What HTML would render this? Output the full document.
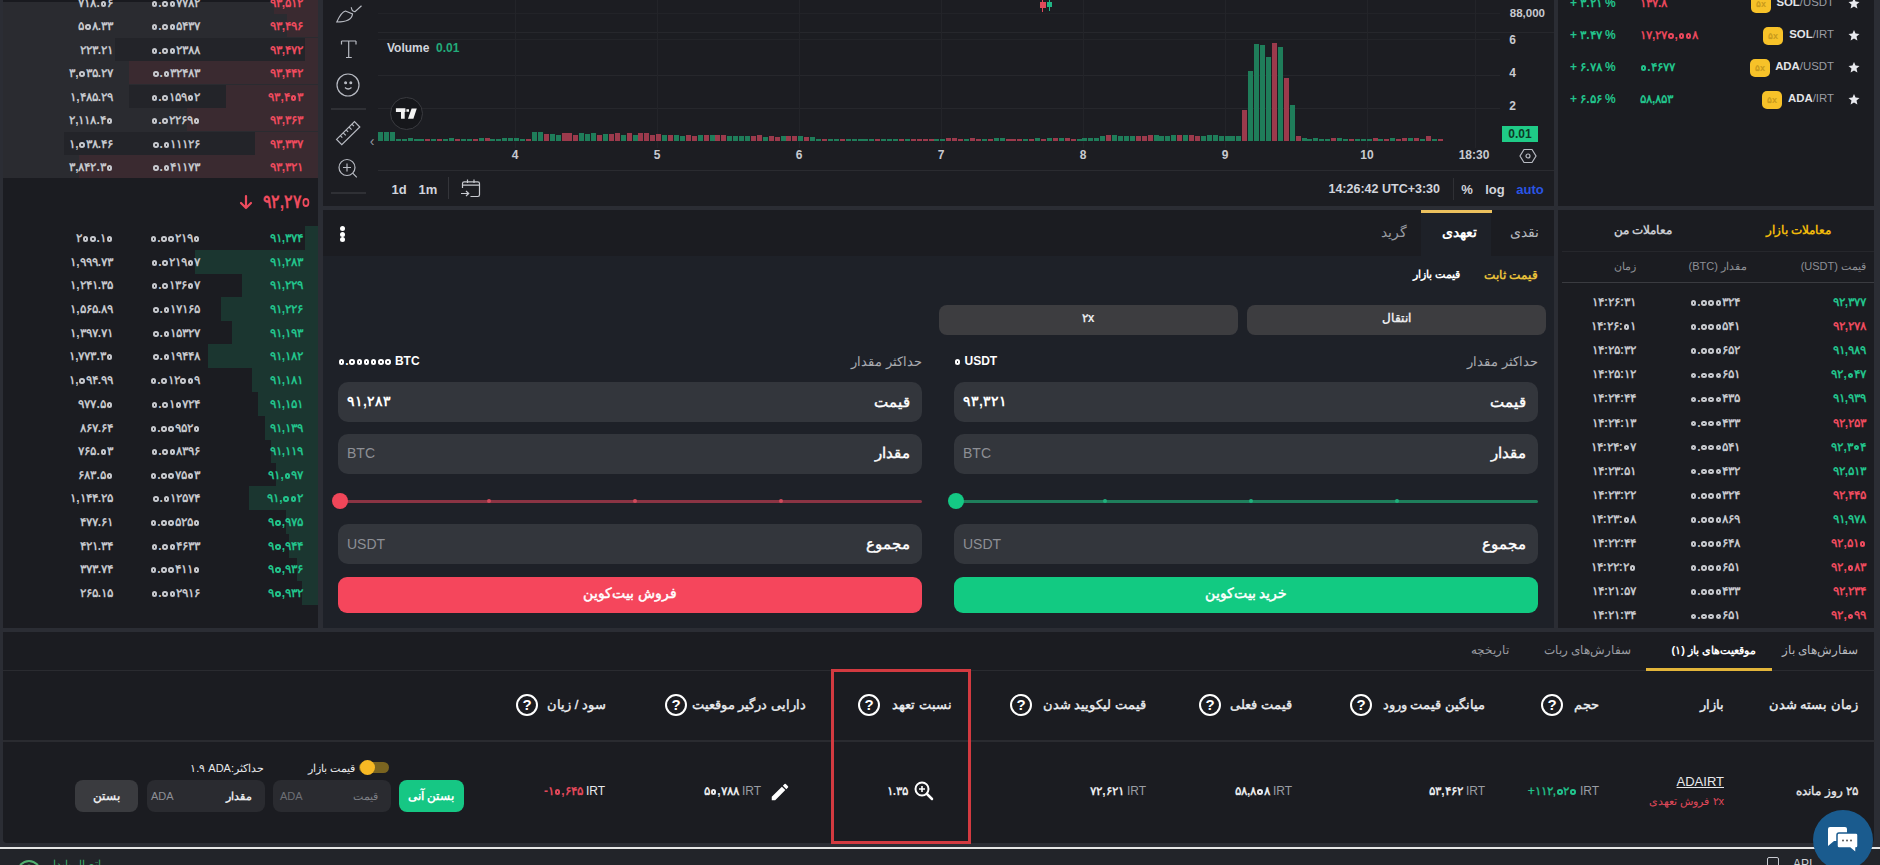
<!DOCTYPE html><html><head><meta charset="utf-8"><style>
html,body{margin:0;padding:0;width:1880px;height:865px;overflow:hidden;background:#2b2d34;font-family:"Liberation Sans",sans-serif}
body>div,body>svg{position:absolute}
.t{position:absolute;white-space:nowrap}
.z{display:inline-block;width:0.46em;height:0.46em;border:2px solid currentColor;border-radius:50%;box-sizing:border-box;vertical-align:0.02em;margin:0 0.07em}
</style></head><body>
<div style="left:3px;top:0px;width:315px;height:628px;background:#1b1c21;"></div>
<div style="left:3px;top:0px;width:315px;height:2px;background:#191a1f;"></div>
<div style="left:3px;top:2px;width:315px;height:176px;background:#2a2b30;"></div>
<div style="left:274px;top:-9px;width:44px;height:23px;background:#3a2a30;"></div>
<div style="left:287px;top:14px;width:31px;height:23px;background:#3a2a30;"></div>
<div style="left:115px;top:38px;width:190px;height:23px;background:#232429;"></div>
<div style="left:305px;top:38px;width:13px;height:23px;background:#3a2a30;"></div>
<div style="left:129px;top:61px;width:189px;height:23px;background:#3a2a30;"></div>
<div style="left:129px;top:85px;width:97px;height:23px;background:#232429;"></div>
<div style="left:226px;top:85px;width:92px;height:23px;background:#3a2a30;"></div>
<div style="left:187px;top:108px;width:131px;height:23px;background:#3a2a30;"></div>
<div style="left:64px;top:132px;width:191px;height:23px;background:#232429;"></div>
<div style="left:255px;top:132px;width:63px;height:23px;background:#3a2a30;"></div>
<div style="left:79px;top:155px;width:239px;height:23px;background:#3a2a30;"></div>
<div class="t" style="right:1767px;top:-6.0px;height:18px;line-height:18px;font-size:12px;color:#c5c7cc;font-weight:bold;">۷۱۸.<i class="z"></i>۶</div>
<div class="t" style="right:1680px;top:-6.0px;height:18px;line-height:18px;font-size:12px;color:#c5c7cc;font-weight:bold;"><i class="z"></i>.<i class="z"></i><i class="z"></i>۷۷۸۲</div>
<div class="t" style="right:1577px;top:-6.0px;height:18px;line-height:18px;font-size:12px;color:#ee4b5e;font-weight:bold;">۹۳,۵۱۲</div>
<div class="t" style="right:1767px;top:17.0px;height:18px;line-height:18px;font-size:12px;color:#c5c7cc;font-weight:bold;">۵<i class="z"></i>۸.۳۳</div>
<div class="t" style="right:1680px;top:17.0px;height:18px;line-height:18px;font-size:12px;color:#c5c7cc;font-weight:bold;"><i class="z"></i>.<i class="z"></i><i class="z"></i>۵۴۳۷</div>
<div class="t" style="right:1577px;top:17.0px;height:18px;line-height:18px;font-size:12px;color:#ee4b5e;font-weight:bold;">۹۳,۴۹۶</div>
<div class="t" style="right:1767px;top:41.0px;height:18px;line-height:18px;font-size:12px;color:#c5c7cc;font-weight:bold;">۲۲۳.۲۱</div>
<div class="t" style="right:1680px;top:41.0px;height:18px;line-height:18px;font-size:12px;color:#c5c7cc;font-weight:bold;"><i class="z"></i>.<i class="z"></i><i class="z"></i>۲۳۸۸</div>
<div class="t" style="right:1577px;top:41.0px;height:18px;line-height:18px;font-size:12px;color:#ee4b5e;font-weight:bold;">۹۳,۴۷۲</div>
<div class="t" style="right:1767px;top:64.0px;height:18px;line-height:18px;font-size:12px;color:#c5c7cc;font-weight:bold;">۳,<i class="z"></i>۳۵.۲۷</div>
<div class="t" style="right:1680px;top:64.0px;height:18px;line-height:18px;font-size:12px;color:#c5c7cc;font-weight:bold;"><i class="z"></i>.<i class="z"></i>۳۲۴۸۳</div>
<div class="t" style="right:1577px;top:64.0px;height:18px;line-height:18px;font-size:12px;color:#ee4b5e;font-weight:bold;">۹۳,۴۴۲</div>
<div class="t" style="right:1767px;top:88.0px;height:18px;line-height:18px;font-size:12px;color:#c5c7cc;font-weight:bold;">۱,۴۸۵.۲۹</div>
<div class="t" style="right:1680px;top:88.0px;height:18px;line-height:18px;font-size:12px;color:#c5c7cc;font-weight:bold;"><i class="z"></i>.<i class="z"></i>۱۵۹<i class="z"></i>۲</div>
<div class="t" style="right:1577px;top:88.0px;height:18px;line-height:18px;font-size:12px;color:#ee4b5e;font-weight:bold;">۹۳,۴<i class="z"></i>۳</div>
<div class="t" style="right:1767px;top:111.0px;height:18px;line-height:18px;font-size:12px;color:#c5c7cc;font-weight:bold;">۲,۱۱۸.۴<i class="z"></i></div>
<div class="t" style="right:1680px;top:111.0px;height:18px;line-height:18px;font-size:12px;color:#c5c7cc;font-weight:bold;"><i class="z"></i>.<i class="z"></i>۲۲۶۹<i class="z"></i></div>
<div class="t" style="right:1577px;top:111.0px;height:18px;line-height:18px;font-size:12px;color:#ee4b5e;font-weight:bold;">۹۳,۳۶۳</div>
<div class="t" style="right:1767px;top:135.0px;height:18px;line-height:18px;font-size:12px;color:#c5c7cc;font-weight:bold;">۱,<i class="z"></i>۳۸.۴۶</div>
<div class="t" style="right:1680px;top:135.0px;height:18px;line-height:18px;font-size:12px;color:#c5c7cc;font-weight:bold;"><i class="z"></i>.<i class="z"></i>۱۱۱۲۶</div>
<div class="t" style="right:1577px;top:135.0px;height:18px;line-height:18px;font-size:12px;color:#ee4b5e;font-weight:bold;">۹۳,۳۳۷</div>
<div class="t" style="right:1767px;top:158.0px;height:18px;line-height:18px;font-size:12px;color:#c5c7cc;font-weight:bold;">۳,۸۴۲.۳<i class="z"></i></div>
<div class="t" style="right:1680px;top:158.0px;height:18px;line-height:18px;font-size:12px;color:#c5c7cc;font-weight:bold;"><i class="z"></i>.<i class="z"></i>۴۱۱۷۳</div>
<div class="t" style="right:1577px;top:158.0px;height:18px;line-height:18px;font-size:12px;color:#ee4b5e;font-weight:bold;">۹۳,۳۲۱</div>
<div class="t" style="right:1569px;top:188.5px;height:25px;line-height:25px;font-size:19px;color:#ee4b5e;font-weight:bold;transform:scaleX(0.84);transform-origin:100% 50%">۹۲,۲۷<i class="z"></i></div>
<svg style="position:absolute;left:238px;top:194px" width="16" height="16" viewBox="0 0 16 16" fill="none" stroke="#ee4b5e" stroke-width="2.2" stroke-linecap="round" stroke-linejoin="round"><path d="M8 2v12M3 9l5 5 5-5"/></svg>
<div style="left:305px;top:226px;width:13px;height:24px;background:#1b3630;"></div>
<div style="left:195px;top:250px;width:123px;height:24px;background:#1b3630;"></div>
<div style="left:242px;top:273px;width:76px;height:24px;background:#1b3630;"></div>
<div style="left:221px;top:297px;width:97px;height:24px;background:#1b3630;"></div>
<div style="left:232px;top:321px;width:86px;height:24px;background:#1b3630;"></div>
<div style="left:208px;top:344px;width:110px;height:24px;background:#1b3630;"></div>
<div style="left:252px;top:368px;width:66px;height:24px;background:#1b3630;"></div>
<div style="left:258px;top:392px;width:60px;height:24px;background:#1b3630;"></div>
<div style="left:265px;top:416px;width:53px;height:24px;background:#1b3630;"></div>
<div style="left:271px;top:439px;width:47px;height:24px;background:#1b3630;"></div>
<div style="left:276px;top:463px;width:42px;height:24px;background:#1b3630;"></div>
<div style="left:249px;top:486px;width:69px;height:24px;background:#1b3630;"></div>
<div style="left:286px;top:510px;width:32px;height:24px;background:#1b3630;"></div>
<div style="left:289px;top:534px;width:29px;height:24px;background:#1b3630;"></div>
<div style="left:297px;top:557px;width:21px;height:24px;background:#1b3630;"></div>
<div style="left:302px;top:581px;width:16px;height:24px;background:#1b3630;"></div>
<div class="t" style="right:1767px;top:229.0px;height:18px;line-height:18px;font-size:12px;color:#c5c7cc;font-weight:bold;">۲<i class="z"></i><i class="z"></i>.۱<i class="z"></i></div>
<div class="t" style="right:1680px;top:229.0px;height:18px;line-height:18px;font-size:12px;color:#c5c7cc;font-weight:bold;"><i class="z"></i>.<i class="z"></i><i class="z"></i>۲۱۹<i class="z"></i></div>
<div class="t" style="right:1577px;top:229.0px;height:18px;line-height:18px;font-size:12px;color:#22c38b;font-weight:bold;">۹۱,۳۷۴</div>
<div class="t" style="right:1767px;top:253.0px;height:18px;line-height:18px;font-size:12px;color:#c5c7cc;font-weight:bold;">۱,۹۹۹.۷۳</div>
<div class="t" style="right:1680px;top:253.0px;height:18px;line-height:18px;font-size:12px;color:#c5c7cc;font-weight:bold;"><i class="z"></i>.<i class="z"></i>۲۱۹<i class="z"></i>۷</div>
<div class="t" style="right:1577px;top:253.0px;height:18px;line-height:18px;font-size:12px;color:#22c38b;font-weight:bold;">۹۱,۲۸۳</div>
<div class="t" style="right:1767px;top:276.0px;height:18px;line-height:18px;font-size:12px;color:#c5c7cc;font-weight:bold;">۱,۲۴۱.۳۵</div>
<div class="t" style="right:1680px;top:276.0px;height:18px;line-height:18px;font-size:12px;color:#c5c7cc;font-weight:bold;"><i class="z"></i>.<i class="z"></i>۱۳۶<i class="z"></i>۷</div>
<div class="t" style="right:1577px;top:276.0px;height:18px;line-height:18px;font-size:12px;color:#22c38b;font-weight:bold;">۹۱,۲۲۹</div>
<div class="t" style="right:1767px;top:300.0px;height:18px;line-height:18px;font-size:12px;color:#c5c7cc;font-weight:bold;">۱,۵۶۵.۸۹</div>
<div class="t" style="right:1680px;top:300.0px;height:18px;line-height:18px;font-size:12px;color:#c5c7cc;font-weight:bold;"><i class="z"></i>.<i class="z"></i>۱۷۱۶۵</div>
<div class="t" style="right:1577px;top:300.0px;height:18px;line-height:18px;font-size:12px;color:#22c38b;font-weight:bold;">۹۱,۲۲۶</div>
<div class="t" style="right:1767px;top:324.0px;height:18px;line-height:18px;font-size:12px;color:#c5c7cc;font-weight:bold;">۱,۳۹۷.۷۱</div>
<div class="t" style="right:1680px;top:324.0px;height:18px;line-height:18px;font-size:12px;color:#c5c7cc;font-weight:bold;"><i class="z"></i>.<i class="z"></i>۱۵۳۲۷</div>
<div class="t" style="right:1577px;top:324.0px;height:18px;line-height:18px;font-size:12px;color:#22c38b;font-weight:bold;">۹۱,۱۹۳</div>
<div class="t" style="right:1767px;top:347.0px;height:18px;line-height:18px;font-size:12px;color:#c5c7cc;font-weight:bold;">۱,۷۷۳.۳<i class="z"></i></div>
<div class="t" style="right:1680px;top:347.0px;height:18px;line-height:18px;font-size:12px;color:#c5c7cc;font-weight:bold;"><i class="z"></i>.<i class="z"></i>۱۹۴۴۸</div>
<div class="t" style="right:1577px;top:347.0px;height:18px;line-height:18px;font-size:12px;color:#22c38b;font-weight:bold;">۹۱,۱۸۲</div>
<div class="t" style="right:1767px;top:371.0px;height:18px;line-height:18px;font-size:12px;color:#c5c7cc;font-weight:bold;">۱,<i class="z"></i>۹۴.۹۹</div>
<div class="t" style="right:1680px;top:371.0px;height:18px;line-height:18px;font-size:12px;color:#c5c7cc;font-weight:bold;"><i class="z"></i>.<i class="z"></i>۱۲<i class="z"></i><i class="z"></i>۹</div>
<div class="t" style="right:1577px;top:371.0px;height:18px;line-height:18px;font-size:12px;color:#22c38b;font-weight:bold;">۹۱,۱۸۱</div>
<div class="t" style="right:1767px;top:395.0px;height:18px;line-height:18px;font-size:12px;color:#c5c7cc;font-weight:bold;">۹۷۷.۵<i class="z"></i></div>
<div class="t" style="right:1680px;top:395.0px;height:18px;line-height:18px;font-size:12px;color:#c5c7cc;font-weight:bold;"><i class="z"></i>.<i class="z"></i>۱<i class="z"></i>۷۲۴</div>
<div class="t" style="right:1577px;top:395.0px;height:18px;line-height:18px;font-size:12px;color:#22c38b;font-weight:bold;">۹۱,۱۵۱</div>
<div class="t" style="right:1767px;top:419.0px;height:18px;line-height:18px;font-size:12px;color:#c5c7cc;font-weight:bold;">۸۶۷.۶۴</div>
<div class="t" style="right:1680px;top:419.0px;height:18px;line-height:18px;font-size:12px;color:#c5c7cc;font-weight:bold;"><i class="z"></i>.<i class="z"></i><i class="z"></i>۹۵۲<i class="z"></i></div>
<div class="t" style="right:1577px;top:419.0px;height:18px;line-height:18px;font-size:12px;color:#22c38b;font-weight:bold;">۹۱,۱۳۹</div>
<div class="t" style="right:1767px;top:442.0px;height:18px;line-height:18px;font-size:12px;color:#c5c7cc;font-weight:bold;">۷۶۵.<i class="z"></i>۳</div>
<div class="t" style="right:1680px;top:442.0px;height:18px;line-height:18px;font-size:12px;color:#c5c7cc;font-weight:bold;"><i class="z"></i>.<i class="z"></i><i class="z"></i>۸۳۹۶</div>
<div class="t" style="right:1577px;top:442.0px;height:18px;line-height:18px;font-size:12px;color:#22c38b;font-weight:bold;">۹۱,۱۱۹</div>
<div class="t" style="right:1767px;top:466.0px;height:18px;line-height:18px;font-size:12px;color:#c5c7cc;font-weight:bold;">۶۸۳.۵<i class="z"></i></div>
<div class="t" style="right:1680px;top:466.0px;height:18px;line-height:18px;font-size:12px;color:#c5c7cc;font-weight:bold;"><i class="z"></i>.<i class="z"></i><i class="z"></i>۷۵<i class="z"></i>۳</div>
<div class="t" style="right:1577px;top:466.0px;height:18px;line-height:18px;font-size:12px;color:#22c38b;font-weight:bold;">۹۱,<i class="z"></i>۹۷</div>
<div class="t" style="right:1767px;top:489.0px;height:18px;line-height:18px;font-size:12px;color:#c5c7cc;font-weight:bold;">۱,۱۴۴.۲۵</div>
<div class="t" style="right:1680px;top:489.0px;height:18px;line-height:18px;font-size:12px;color:#c5c7cc;font-weight:bold;"><i class="z"></i>.<i class="z"></i>۱۲۵۷۴</div>
<div class="t" style="right:1577px;top:489.0px;height:18px;line-height:18px;font-size:12px;color:#22c38b;font-weight:bold;">۹۱,<i class="z"></i><i class="z"></i>۲</div>
<div class="t" style="right:1767px;top:513.0px;height:18px;line-height:18px;font-size:12px;color:#c5c7cc;font-weight:bold;">۴۷۷.۶۱</div>
<div class="t" style="right:1680px;top:513.0px;height:18px;line-height:18px;font-size:12px;color:#c5c7cc;font-weight:bold;"><i class="z"></i>.<i class="z"></i><i class="z"></i>۵۲۵<i class="z"></i></div>
<div class="t" style="right:1577px;top:513.0px;height:18px;line-height:18px;font-size:12px;color:#22c38b;font-weight:bold;">۹<i class="z"></i>,۹۷۵</div>
<div class="t" style="right:1767px;top:537.0px;height:18px;line-height:18px;font-size:12px;color:#c5c7cc;font-weight:bold;">۴۲۱.۳۴</div>
<div class="t" style="right:1680px;top:537.0px;height:18px;line-height:18px;font-size:12px;color:#c5c7cc;font-weight:bold;"><i class="z"></i>.<i class="z"></i><i class="z"></i>۴۶۳۳</div>
<div class="t" style="right:1577px;top:537.0px;height:18px;line-height:18px;font-size:12px;color:#22c38b;font-weight:bold;">۹<i class="z"></i>,۹۴۴</div>
<div class="t" style="right:1767px;top:560.0px;height:18px;line-height:18px;font-size:12px;color:#c5c7cc;font-weight:bold;">۳۷۳.۷۴</div>
<div class="t" style="right:1680px;top:560.0px;height:18px;line-height:18px;font-size:12px;color:#c5c7cc;font-weight:bold;"><i class="z"></i>.<i class="z"></i><i class="z"></i>۴۱۱<i class="z"></i></div>
<div class="t" style="right:1577px;top:560.0px;height:18px;line-height:18px;font-size:12px;color:#22c38b;font-weight:bold;">۹<i class="z"></i>,۹۳۶</div>
<div class="t" style="right:1767px;top:584.0px;height:18px;line-height:18px;font-size:12px;color:#c5c7cc;font-weight:bold;">۲۶۵.۱۵</div>
<div class="t" style="right:1680px;top:584.0px;height:18px;line-height:18px;font-size:12px;color:#c5c7cc;font-weight:bold;"><i class="z"></i>.<i class="z"></i><i class="z"></i>۲۹۱۶</div>
<div class="t" style="right:1577px;top:584.0px;height:18px;line-height:18px;font-size:12px;color:#22c38b;font-weight:bold;">۹<i class="z"></i>,۹۳۲</div>
<div style="left:323px;top:0px;width:1231px;height:206px;background:#1c1d22;"></div>
<div style="left:378px;top:32px;width:1122px;height:1px;background:#26272c;"></div>
<div style="left:378px;top:75px;width:1122px;height:1px;background:#26272c;"></div>
<div style="left:378px;top:108px;width:1122px;height:1px;background:#26272c;"></div>
<div style="left:378px;top:39px;width:1122px;height:1px;background:#232429;"></div>
<div style="left:378px;top:13px;width:1122px;height:1px;background:#222328;"></div>
<div style="left:378px;top:170px;width:1176px;height:1px;background:#2a2b30;"></div>
<div style="left:1500px;top:32px;width:54px;height:1px;background:#26272c;"></div>
<div style="left:515px;top:0px;width:1px;height:148px;background:#232429;"></div>
<div style="left:657px;top:0px;width:1px;height:148px;background:#232429;"></div>
<div style="left:799px;top:0px;width:1px;height:148px;background:#232429;"></div>
<div style="left:941px;top:0px;width:1px;height:148px;background:#232429;"></div>
<div style="left:1083px;top:0px;width:1px;height:148px;background:#232429;"></div>
<div style="left:1225px;top:0px;width:1px;height:148px;background:#232429;"></div>
<div style="left:1367px;top:0px;width:1px;height:148px;background:#232429;"></div>
<div style="left:1475px;top:0px;width:1px;height:148px;background:#232429;"></div>
<div style="left:331px;top:108px;width:35px;height:2px;background:#2f3035;"></div>
<div style="left:331px;top:192px;width:35px;height:2px;background:#2f3035;"></div>
<div style="left:378px;top:132px;width:4.6px;height:9px;background:#1f7d5a"></div><div style="left:384px;top:132px;width:4.6px;height:9px;background:#1f7d5a"></div><div style="left:390px;top:132px;width:4.6px;height:9px;background:#1f7d5a"></div><div style="left:396px;top:139px;width:4.6px;height:2px;background:#1f7d5a"></div><div style="left:402px;top:139px;width:4.6px;height:2px;background:#1f7d5a"></div><div style="left:408px;top:138px;width:4.6px;height:3px;background:#1f7d5a"></div><div style="left:414px;top:139px;width:4.6px;height:2px;background:#1f7d5a"></div><div style="left:419px;top:139px;width:4.6px;height:2px;background:#1f7d5a"></div><div style="left:425px;top:139px;width:4.6px;height:2px;background:#9b3a4c"></div><div style="left:431px;top:139px;width:4.6px;height:2px;background:#1f7d5a"></div><div style="left:437px;top:139px;width:4.6px;height:2px;background:#9b3a4c"></div><div style="left:443px;top:139px;width:4.6px;height:2px;background:#1f7d5a"></div><div style="left:449px;top:138px;width:4.6px;height:3px;background:#1f7d5a"></div><div style="left:455px;top:139px;width:4.6px;height:2px;background:#9b3a4c"></div><div style="left:461px;top:139px;width:4.6px;height:2px;background:#1f7d5a"></div><div style="left:467px;top:139px;width:4.6px;height:2px;background:#1f7d5a"></div><div style="left:473px;top:139px;width:4.6px;height:2px;background:#9b3a4c"></div><div style="left:479px;top:138px;width:4.6px;height:3px;background:#1f7d5a"></div><div style="left:485px;top:138px;width:4.6px;height:3px;background:#9b3a4c"></div><div style="left:490px;top:139px;width:4.6px;height:2px;background:#1f7d5a"></div><div style="left:496px;top:139px;width:4.6px;height:2px;background:#1f7d5a"></div><div style="left:502px;top:138px;width:4.6px;height:3px;background:#1f7d5a"></div><div style="left:508px;top:138px;width:4.6px;height:3px;background:#1f7d5a"></div><div style="left:514px;top:138px;width:4.6px;height:3px;background:#1f7d5a"></div><div style="left:520px;top:139px;width:4.6px;height:2px;background:#1f7d5a"></div><div style="left:526px;top:139px;width:4.6px;height:2px;background:#9b3a4c"></div><div style="left:532px;top:132px;width:4.6px;height:9px;background:#1f7d5a"></div><div style="left:538px;top:132px;width:4.6px;height:9px;background:#1f7d5a"></div><div style="left:544px;top:134px;width:4.6px;height:7px;background:#9b3a4c"></div><div style="left:550px;top:134px;width:4.6px;height:7px;background:#1f7d5a"></div><div style="left:556px;top:135px;width:4.6px;height:6px;background:#1f7d5a"></div><div style="left:562px;top:133px;width:4.6px;height:8px;background:#9b3a4c"></div><div style="left:567px;top:133px;width:4.6px;height:8px;background:#9b3a4c"></div><div style="left:573px;top:135px;width:4.6px;height:6px;background:#9b3a4c"></div><div style="left:579px;top:133px;width:4.6px;height:8px;background:#1f7d5a"></div><div style="left:585px;top:134px;width:4.6px;height:7px;background:#1f7d5a"></div><div style="left:591px;top:133px;width:4.6px;height:8px;background:#1f7d5a"></div><div style="left:597px;top:135px;width:4.6px;height:6px;background:#9b3a4c"></div><div style="left:603px;top:134px;width:4.6px;height:7px;background:#1f7d5a"></div><div style="left:609px;top:134px;width:4.6px;height:7px;background:#9b3a4c"></div><div style="left:615px;top:133px;width:4.6px;height:8px;background:#9b3a4c"></div><div style="left:621px;top:135px;width:4.6px;height:6px;background:#1f7d5a"></div><div style="left:627px;top:133px;width:4.6px;height:8px;background:#9b3a4c"></div><div style="left:633px;top:135px;width:4.6px;height:6px;background:#1f7d5a"></div><div style="left:638px;top:133px;width:4.6px;height:8px;background:#9b3a4c"></div><div style="left:644px;top:133px;width:4.6px;height:8px;background:#9b3a4c"></div><div style="left:650px;top:135px;width:4.6px;height:6px;background:#9b3a4c"></div><div style="left:656px;top:134px;width:4.6px;height:7px;background:#9b3a4c"></div><div style="left:662px;top:135px;width:4.6px;height:6px;background:#1f7d5a"></div><div style="left:668px;top:135px;width:4.6px;height:6px;background:#9b3a4c"></div><div style="left:674px;top:135px;width:4.6px;height:6px;background:#1f7d5a"></div><div style="left:680px;top:136px;width:4.6px;height:5px;background:#1f7d5a"></div><div style="left:686px;top:135px;width:4.6px;height:6px;background:#9b3a4c"></div><div style="left:692px;top:136px;width:4.6px;height:5px;background:#9b3a4c"></div><div style="left:698px;top:135px;width:4.6px;height:6px;background:#1f7d5a"></div><div style="left:704px;top:135px;width:4.6px;height:6px;background:#9b3a4c"></div><div style="left:710px;top:135px;width:4.6px;height:6px;background:#1f7d5a"></div><div style="left:715px;top:135px;width:4.6px;height:6px;background:#9b3a4c"></div><div style="left:721px;top:135px;width:4.6px;height:6px;background:#9b3a4c"></div><div style="left:727px;top:136px;width:4.6px;height:5px;background:#1f7d5a"></div><div style="left:733px;top:136px;width:4.6px;height:5px;background:#1f7d5a"></div><div style="left:739px;top:136px;width:4.6px;height:5px;background:#1f7d5a"></div><div style="left:745px;top:136px;width:4.6px;height:5px;background:#1f7d5a"></div><div style="left:751px;top:136px;width:4.6px;height:5px;background:#9b3a4c"></div><div style="left:757px;top:135px;width:4.6px;height:6px;background:#9b3a4c"></div><div style="left:763px;top:137px;width:4.6px;height:4px;background:#1f7d5a"></div><div style="left:769px;top:136px;width:4.6px;height:5px;background:#9b3a4c"></div><div style="left:775px;top:137px;width:4.6px;height:4px;background:#9b3a4c"></div><div style="left:781px;top:136px;width:4.6px;height:5px;background:#1f7d5a"></div><div style="left:786px;top:136px;width:4.6px;height:5px;background:#9b3a4c"></div><div style="left:792px;top:136px;width:4.6px;height:5px;background:#9b3a4c"></div><div style="left:798px;top:136px;width:4.6px;height:5px;background:#1f7d5a"></div><div style="left:804px;top:137px;width:4.6px;height:4px;background:#9b3a4c"></div><div style="left:810px;top:137px;width:4.6px;height:4px;background:#1f7d5a"></div><div style="left:816px;top:139px;width:4.6px;height:2px;background:#1f7d5a"></div><div style="left:822px;top:139px;width:4.6px;height:2px;background:#9b3a4c"></div><div style="left:828px;top:139px;width:4.6px;height:2px;background:#1f7d5a"></div><div style="left:834px;top:139px;width:4.6px;height:2px;background:#1f7d5a"></div><div style="left:840px;top:139px;width:4.6px;height:2px;background:#9b3a4c"></div><div style="left:846px;top:139px;width:4.6px;height:2px;background:#1f7d5a"></div><div style="left:852px;top:139px;width:4.6px;height:2px;background:#1f7d5a"></div><div style="left:858px;top:139px;width:4.6px;height:2px;background:#1f7d5a"></div><div style="left:863px;top:139px;width:4.6px;height:2px;background:#1f7d5a"></div><div style="left:869px;top:139px;width:4.6px;height:2px;background:#1f7d5a"></div><div style="left:875px;top:139px;width:4.6px;height:2px;background:#9b3a4c"></div><div style="left:881px;top:139px;width:4.6px;height:2px;background:#1f7d5a"></div><div style="left:887px;top:139px;width:4.6px;height:2px;background:#1f7d5a"></div><div style="left:893px;top:139px;width:4.6px;height:2px;background:#1f7d5a"></div><div style="left:899px;top:139px;width:4.6px;height:2px;background:#9b3a4c"></div><div style="left:905px;top:139px;width:4.6px;height:2px;background:#1f7d5a"></div><div style="left:911px;top:139px;width:4.6px;height:2px;background:#9b3a4c"></div><div style="left:917px;top:139px;width:4.6px;height:2px;background:#9b3a4c"></div><div style="left:923px;top:139px;width:4.6px;height:2px;background:#9b3a4c"></div><div style="left:929px;top:139px;width:4.6px;height:2px;background:#9b3a4c"></div><div style="left:934px;top:139px;width:4.6px;height:2px;background:#1f7d5a"></div><div style="left:940px;top:139px;width:4.6px;height:2px;background:#1f7d5a"></div><div style="left:946px;top:138px;width:4.6px;height:3px;background:#9b3a4c"></div><div style="left:952px;top:138px;width:4.6px;height:3px;background:#9b3a4c"></div><div style="left:958px;top:139px;width:4.6px;height:2px;background:#9b3a4c"></div><div style="left:964px;top:139px;width:4.6px;height:2px;background:#1f7d5a"></div><div style="left:970px;top:138px;width:4.6px;height:3px;background:#9b3a4c"></div><div style="left:976px;top:139px;width:4.6px;height:2px;background:#9b3a4c"></div><div style="left:982px;top:139px;width:4.6px;height:2px;background:#1f7d5a"></div><div style="left:988px;top:139px;width:4.6px;height:2px;background:#9b3a4c"></div><div style="left:994px;top:138px;width:4.6px;height:3px;background:#1f7d5a"></div><div style="left:1000px;top:138px;width:4.6px;height:3px;background:#1f7d5a"></div><div style="left:1006px;top:139px;width:4.6px;height:2px;background:#9b3a4c"></div><div style="left:1011px;top:139px;width:4.6px;height:2px;background:#9b3a4c"></div><div style="left:1017px;top:139px;width:4.6px;height:2px;background:#9b3a4c"></div><div style="left:1023px;top:139px;width:4.6px;height:2px;background:#1f7d5a"></div><div style="left:1029px;top:139px;width:4.6px;height:2px;background:#9b3a4c"></div><div style="left:1035px;top:138px;width:4.6px;height:3px;background:#1f7d5a"></div><div style="left:1041px;top:139px;width:4.6px;height:2px;background:#9b3a4c"></div><div style="left:1047px;top:138px;width:4.6px;height:3px;background:#1f7d5a"></div><div style="left:1053px;top:138px;width:4.6px;height:3px;background:#9b3a4c"></div><div style="left:1059px;top:138px;width:4.6px;height:3px;background:#1f7d5a"></div><div style="left:1065px;top:138px;width:4.6px;height:3px;background:#9b3a4c"></div><div style="left:1071px;top:139px;width:4.6px;height:2px;background:#9b3a4c"></div><div style="left:1077px;top:139px;width:4.6px;height:2px;background:#1f7d5a"></div><div style="left:1082px;top:138px;width:4.6px;height:3px;background:#1f7d5a"></div><div style="left:1088px;top:138px;width:4.6px;height:3px;background:#1f7d5a"></div><div style="left:1094px;top:138px;width:4.6px;height:3px;background:#1f7d5a"></div><div style="left:1100px;top:136px;width:4.6px;height:5px;background:#1f7d5a"></div><div style="left:1106px;top:135px;width:4.6px;height:6px;background:#9b3a4c"></div><div style="left:1112px;top:135px;width:4.6px;height:6px;background:#1f7d5a"></div><div style="left:1118px;top:136px;width:4.6px;height:5px;background:#1f7d5a"></div><div style="left:1124px;top:136px;width:4.6px;height:5px;background:#1f7d5a"></div><div style="left:1130px;top:136px;width:4.6px;height:5px;background:#1f7d5a"></div><div style="left:1136px;top:136px;width:4.6px;height:5px;background:#9b3a4c"></div><div style="left:1142px;top:136px;width:4.6px;height:5px;background:#9b3a4c"></div><div style="left:1148px;top:135px;width:4.6px;height:6px;background:#9b3a4c"></div><div style="left:1154px;top:135px;width:4.6px;height:6px;background:#1f7d5a"></div><div style="left:1159px;top:136px;width:4.6px;height:5px;background:#1f7d5a"></div><div style="left:1165px;top:136px;width:4.6px;height:5px;background:#1f7d5a"></div><div style="left:1171px;top:135px;width:4.6px;height:6px;background:#1f7d5a"></div><div style="left:1177px;top:135px;width:4.6px;height:6px;background:#9b3a4c"></div><div style="left:1183px;top:135px;width:4.6px;height:6px;background:#1f7d5a"></div><div style="left:1189px;top:135px;width:4.6px;height:6px;background:#9b3a4c"></div><div style="left:1195px;top:136px;width:4.6px;height:5px;background:#9b3a4c"></div><div style="left:1201px;top:136px;width:4.6px;height:5px;background:#1f7d5a"></div><div style="left:1207px;top:135px;width:4.6px;height:6px;background:#1f7d5a"></div><div style="left:1213px;top:135px;width:4.6px;height:6px;background:#1f7d5a"></div><div style="left:1219px;top:136px;width:4.6px;height:5px;background:#1f7d5a"></div><div style="left:1225px;top:136px;width:4.6px;height:5px;background:#1f7d5a"></div><div style="left:1230px;top:136px;width:4.6px;height:5px;background:#1f7d5a"></div><div style="left:1236px;top:136px;width:4.6px;height:5px;background:#1f7d5a"></div><div style="left:1242px;top:110px;width:4.6px;height:31px;background:#9b3a4c"></div><div style="left:1248px;top:71px;width:4.6px;height:70px;background:#1f7d5a"></div><div style="left:1254px;top:44px;width:4.6px;height:97px;background:#1f7d5a"></div><div style="left:1260px;top:45px;width:4.6px;height:96px;background:#1f7d5a"></div><div style="left:1266px;top:57px;width:4.6px;height:84px;background:#1f7d5a"></div><div style="left:1272px;top:43px;width:4.6px;height:98px;background:#9b3a4c"></div><div style="left:1278px;top:47px;width:4.6px;height:94px;background:#1f7d5a"></div><div style="left:1284px;top:78px;width:4.6px;height:63px;background:#9b3a4c"></div><div style="left:1290px;top:105px;width:4.6px;height:36px;background:#1f7d5a"></div><div style="left:1296px;top:136px;width:4.6px;height:5px;background:#9b3a4c"></div><div style="left:1302px;top:138px;width:4.6px;height:3px;background:#1f7d5a"></div><div style="left:1307px;top:139px;width:4.6px;height:2px;background:#1f7d5a"></div><div style="left:1313px;top:138px;width:4.6px;height:3px;background:#1f7d5a"></div><div style="left:1319px;top:139px;width:4.6px;height:2px;background:#1f7d5a"></div><div style="left:1325px;top:139px;width:4.6px;height:2px;background:#1f7d5a"></div><div style="left:1331px;top:138px;width:4.6px;height:3px;background:#9b3a4c"></div><div style="left:1337px;top:138px;width:4.6px;height:3px;background:#1f7d5a"></div><div style="left:1343px;top:139px;width:4.6px;height:2px;background:#1f7d5a"></div><div style="left:1349px;top:139px;width:4.6px;height:2px;background:#9b3a4c"></div><div style="left:1355px;top:139px;width:4.6px;height:2px;background:#1f7d5a"></div><div style="left:1361px;top:139px;width:4.6px;height:2px;background:#1f7d5a"></div><div style="left:1367px;top:139px;width:4.6px;height:2px;background:#1f7d5a"></div><div style="left:1373px;top:138px;width:4.6px;height:3px;background:#9b3a4c"></div><div style="left:1378px;top:139px;width:4.6px;height:2px;background:#1f7d5a"></div><div style="left:1384px;top:139px;width:4.6px;height:2px;background:#9b3a4c"></div><div style="left:1390px;top:138px;width:4.6px;height:3px;background:#1f7d5a"></div><div style="left:1396px;top:139px;width:4.6px;height:2px;background:#9b3a4c"></div><div style="left:1402px;top:138px;width:4.6px;height:3px;background:#9b3a4c"></div><div style="left:1408px;top:138px;width:4.6px;height:3px;background:#1f7d5a"></div><div style="left:1414px;top:138px;width:4.6px;height:3px;background:#9b3a4c"></div><div style="left:1420px;top:139px;width:4.6px;height:2px;background:#1f7d5a"></div><div style="left:1426px;top:136px;width:4.6px;height:5px;background:#9b3a4c"></div><div style="left:1432px;top:139px;width:4.6px;height:2px;background:#1f7d5a"></div><div style="left:1438px;top:139px;width:4.6px;height:2px;background:#9b3a4c"></div>
<div style="left:1040px;top:2px;width:6px;height:6px;background:#e04a5a;"></div>
<div style="left:1042px;top:0px;width:1px;height:12px;background:#e04a5a;"></div>
<div style="left:1047px;top:2px;width:5px;height:5px;background:#22b585;"></div>
<div style="left:1049px;top:0px;width:1px;height:11px;background:#22b585;"></div>
<div class="t" style="left:387px;top:39.0px;height:18px;line-height:18px;font-size:12px;color:#d1d4dc;font-weight:bold;">Volume</div>
<div class="t" style="left:436px;top:39.0px;height:18px;line-height:18px;font-size:12px;color:#22ab7a;font-weight:bold;">0.01</div>
<div style="left:389.5px;top:96.5px;width:33px;height:33px;border-radius:50%;background:#16171b;border:1.5px solid #3a3b40;box-sizing:border-box"></div>
<svg style="position:absolute;left:385px;top:92px" width="45" height="42" viewBox="385 92 45 42"><path d="M395.9 108.3 H405.4 V111.9 H404.7 V118.7 H401 V111.9 H395.9 Z M406.4 109.3 h2.6 v2.4 h-2.6 z M411.6 108.5 H416.8 L413.4 118.7 H408 Z" fill="#f4f4f4"/></svg>
<div class="t" style="right:335px;top:5.2px;height:17.5px;line-height:17.5px;font-size:11.5px;color:#c8cad0;font-weight:bold;">88,000</div>
<div class="t" style="right:364px;top:31.0px;height:18px;line-height:18px;font-size:12px;color:#c8cad0;font-weight:bold;">6</div>
<div class="t" style="right:364px;top:64.0px;height:18px;line-height:18px;font-size:12px;color:#c8cad0;font-weight:bold;">4</div>
<div class="t" style="right:364px;top:97.0px;height:18px;line-height:18px;font-size:12px;color:#c8cad0;font-weight:bold;">2</div>
<div style="left:1502px;top:126px;width:36px;height:16px;background:#1fcb87;"></div>
<div class="t" style="left:1320px;width:400px;text-align:center;top:125.0px;height:18px;line-height:18px;font-size:12px;color:#0d3b28;font-weight:bold;">0.01</div>
<div class="t" style="left:315px;width:400px;text-align:center;top:146.0px;height:18px;line-height:18px;font-size:12px;color:#c8cad0;font-weight:bold;">4</div>
<div class="t" style="left:457px;width:400px;text-align:center;top:146.0px;height:18px;line-height:18px;font-size:12px;color:#c8cad0;font-weight:bold;">5</div>
<div class="t" style="left:599px;width:400px;text-align:center;top:146.0px;height:18px;line-height:18px;font-size:12px;color:#c8cad0;font-weight:bold;">6</div>
<div class="t" style="left:741px;width:400px;text-align:center;top:146.0px;height:18px;line-height:18px;font-size:12px;color:#c8cad0;font-weight:bold;">7</div>
<div class="t" style="left:883px;width:400px;text-align:center;top:146.0px;height:18px;line-height:18px;font-size:12px;color:#c8cad0;font-weight:bold;">8</div>
<div class="t" style="left:1025px;width:400px;text-align:center;top:146.0px;height:18px;line-height:18px;font-size:12px;color:#c8cad0;font-weight:bold;">9</div>
<div class="t" style="left:1167px;width:400px;text-align:center;top:146.0px;height:18px;line-height:18px;font-size:12px;color:#c8cad0;font-weight:bold;">10</div>
<div class="t" style="left:1274px;width:400px;text-align:center;top:146.0px;height:18px;line-height:18px;font-size:12px;color:#c8cad0;font-weight:bold;">18:30</div>
<div class="t" style="left:172px;width:400px;text-align:center;top:131.0px;height:20px;line-height:20px;font-size:14px;color:#9598a1;font-weight:normal;">‹</div>
<div class="t" style="left:199px;width:400px;text-align:center;top:179.5px;height:19px;line-height:19px;font-size:13px;color:#d1d4dc;font-weight:bold;">1d</div>
<div class="t" style="left:228px;width:400px;text-align:center;top:179.5px;height:19px;line-height:19px;font-size:13px;color:#d1d4dc;font-weight:bold;">1m</div>
<div style="left:448px;top:177px;width:1px;height:22px;background:#34353a;"></div>
<div class="t" style="right:440px;top:179.8px;height:18.5px;line-height:18.5px;font-size:12.5px;color:#d1d4dc;font-weight:bold;">14:26:42 UTC+3:30</div>
<div style="left:1453px;top:178px;width:1px;height:22px;background:#2f3035;"></div>
<div class="t" style="left:1267px;width:400px;text-align:center;top:179.5px;height:19px;line-height:19px;font-size:13px;color:#d1d4dc;font-weight:bold;">%</div>
<div class="t" style="left:1295px;width:400px;text-align:center;top:179.5px;height:19px;line-height:19px;font-size:13px;color:#d1d4dc;font-weight:bold;">log</div>
<div class="t" style="left:1330px;width:400px;text-align:center;top:179.5px;height:19px;line-height:19px;font-size:13px;color:#2a55e6;font-weight:bold;">auto</div>
<svg style="position:absolute;left:323px;top:0px" width="52" height="206" viewBox="323 0 52 206" fill="none" stroke="#b8bbc3" stroke-width="1.2"><path d="M336.8 22 C339.5 16 342.5 11.5 345.5 11 L352.5 14 C352 19 348 22 336.8 22 Z M351.3 7.3 Q351.8 11.8 355 11.6 L361.5 5.8"/><path d="M341.5 41 H356 M348.7 41 V57.5 M346 57.5 H351.8 M341.5 41 V44.5 M356 41 V44.5"/><circle cx="348" cy="85" r="11"/><circle cx="345.6" cy="82.8" r="0.9" fill="#b8bbc3"/><circle cx="350.8" cy="82.8" r="0.9" fill="#b8bbc3"/><path d="M345 87.5 Q348 90.5 351.5 87.5"/><path d="M336.6 139.4 L354.5 121.6 L359.8 127 L341.8 144.6 Z M340.3 135.7 l2 2 M343.2 132.8 l2.6 2.6 M346.1 129.9 l2 2 M349 127 l2.6 2.6 M351.9 124.1 l2 2"/><circle cx="347" cy="167.5" r="8"/><path d="M352.7 173.2 L356.8 177.3 M347 163.5 V171.5 M343 167.5 H351"/></svg>
<svg style="position:absolute;left:458px;top:176px" width="26" height="24" viewBox="458 176 26 24" fill="none" stroke="#c8cad0" stroke-width="1.2"><path d="M462.5 188 V183.5 Q462.5 181.8 464.2 181.8 H477.8 Q479.5 181.8 479.5 183.5 V194.8 Q479.5 196.5 477.8 196.5 H470.5 M462.5 185.2 H479.5 M467.5 179.5 V183 M474 179.5 V183 M461 193.5 H468.5 M466 191 L468.7 193.5 L466 196"/></svg>
<svg style="position:absolute;left:1519px;top:147px" width="18" height="18" viewBox="0 0 18 18" fill="none" stroke="#b8bbc3" stroke-width="1.2"><path d="M5 2.5h8l4 6.5-4 6.5H5L1 9z"/><circle cx="9" cy="9" r="2"/></svg>
<div style="left:1558px;top:0px;width:316px;height:206px;background:#1b1c21;"></div>
<div class="t" style="left:1570px;top:-6.0px;height:18px;line-height:18px;font-size:12px;color:#22c38b;font-weight:bold;">+ ۳.۲۱ %</div>
<div class="t" style="left:1640px;top:-6.0px;height:18px;line-height:18px;font-size:12px;color:#e8475b;font-weight:bold;">۱۳۷.۸</div>
<div class="t" style="right:46px;top:-5.7px;height:17.4px;line-height:17.4px;font-size:11.4px;color:#ddd;font-weight:normal;"><span style="color:#e3e4e8;font-weight:bold">SOL</span><span style="color:#9a9ca3">/USDT</span></div>
<svg style="position:absolute;left:1848px;top:-2.5px" width="12" height="11" viewBox="0 0 24 22"><path d="M12 0l3.1 7.2 7.9.7-6 5.2 1.8 7.7L12 16.9 5.2 20.8 7 13.1 1 7.9l7.9-.7z" fill="#e8e9ee"/></svg>
<div class="t" style="left:1570px;top:26.0px;height:18px;line-height:18px;font-size:12px;color:#22c38b;font-weight:bold;">+ ۳.۴۷ %</div>
<div class="t" style="left:1640px;top:26.0px;height:18px;line-height:18px;font-size:12px;color:#e8475b;font-weight:bold;">۱۷,۲۷<i class="z"></i>,<i class="z"></i><i class="z"></i>۸</div>
<div class="t" style="right:46px;top:26.3px;height:17.4px;line-height:17.4px;font-size:11.4px;color:#ddd;font-weight:normal;"><span style="color:#e3e4e8;font-weight:bold">SOL</span><span style="color:#9a9ca3">/IRT</span></div>
<svg style="position:absolute;left:1848px;top:29.5px" width="12" height="11" viewBox="0 0 24 22"><path d="M12 0l3.1 7.2 7.9.7-6 5.2 1.8 7.7L12 16.9 5.2 20.8 7 13.1 1 7.9l7.9-.7z" fill="#e8e9ee"/></svg>
<div class="t" style="left:1570px;top:58.0px;height:18px;line-height:18px;font-size:12px;color:#22c38b;font-weight:bold;">+ ۶.۷۸ %</div>
<div class="t" style="left:1640px;top:58.0px;height:18px;line-height:18px;font-size:12px;color:#22c38b;font-weight:bold;"><i class="z"></i>.۴۶۷۷</div>
<div class="t" style="right:46px;top:58.3px;height:17.4px;line-height:17.4px;font-size:11.4px;color:#ddd;font-weight:normal;"><span style="color:#e3e4e8;font-weight:bold">ADA</span><span style="color:#9a9ca3">/USDT</span></div>
<svg style="position:absolute;left:1848px;top:61.5px" width="12" height="11" viewBox="0 0 24 22"><path d="M12 0l3.1 7.2 7.9.7-6 5.2 1.8 7.7L12 16.9 5.2 20.8 7 13.1 1 7.9l7.9-.7z" fill="#e8e9ee"/></svg>
<div class="t" style="left:1570px;top:90.0px;height:18px;line-height:18px;font-size:12px;color:#22c38b;font-weight:bold;">+ ۶.۵۶ %</div>
<div class="t" style="left:1640px;top:90.0px;height:18px;line-height:18px;font-size:12px;color:#22c38b;font-weight:bold;">۵۸,۸۵۳</div>
<div class="t" style="right:46px;top:90.3px;height:17.4px;line-height:17.4px;font-size:11.4px;color:#ddd;font-weight:normal;"><span style="color:#e3e4e8;font-weight:bold">ADA</span><span style="color:#9a9ca3">/IRT</span></div>
<svg style="position:absolute;left:1848px;top:93.5px" width="12" height="11" viewBox="0 0 24 22"><path d="M12 0l3.1 7.2 7.9.7-6 5.2 1.8 7.7L12 16.9 5.2 20.8 7 13.1 1 7.9l7.9-.7z" fill="#e8e9ee"/></svg>
<div style="left:1751px;top:-5px;width:20px;height:18px;background:#f7c229;border-radius:5px"></div>
<div class="t" style="left:1561px;width:400px;text-align:center;top:-3.5px;height:15px;line-height:15px;font-size:9px;color:#c99a1c;font-weight:bold;">۵x</div>
<div style="left:1763px;top:27px;width:20px;height:18px;background:#f7c229;border-radius:5px"></div>
<div class="t" style="left:1573px;width:400px;text-align:center;top:28.5px;height:15px;line-height:15px;font-size:9px;color:#c99a1c;font-weight:bold;">۵x</div>
<div style="left:1750px;top:59px;width:20px;height:18px;background:#f7c229;border-radius:5px"></div>
<div class="t" style="left:1560px;width:400px;text-align:center;top:60.5px;height:15px;line-height:15px;font-size:9px;color:#c99a1c;font-weight:bold;">۵x</div>
<div style="left:1762px;top:91px;width:20px;height:18px;background:#f7c229;border-radius:5px"></div>
<div class="t" style="left:1572px;width:400px;text-align:center;top:92.5px;height:15px;line-height:15px;font-size:9px;color:#c99a1c;font-weight:bold;">۵x</div>
<div style="left:323px;top:210px;width:1231px;height:418px;background:#1e2128;"></div>
<div style="left:323px;top:210px;width:1231px;height:46px;background:#1b1c21;"></div>
<div style="left:1421px;top:210px;width:70px;height:46px;background:#1e2128;"></div>
<div style="left:1421px;top:210px;width:71px;height:3px;background:#ecc15e;"></div>
<div style="left:340px;top:226px;width:5px;height:5px;border-radius:50%;background:#fff"></div><div style="left:340px;top:231.5px;width:5px;height:5px;border-radius:50%;background:#fff"></div><div style="left:340px;top:237px;width:5px;height:5px;border-radius:50%;background:#fff"></div>
<div class="t" style="right:341px;top:222.0px;height:20px;line-height:20px;font-size:14px;color:#b7b9bf;font-weight:normal;">نقدی</div>
<div class="t" style="right:403px;top:222.0px;height:20px;line-height:20px;font-size:14px;color:#ffffff;font-weight:bold;">تعهدی</div>
<div class="t" style="right:473px;top:222.0px;height:20px;line-height:20px;font-size:14px;color:#9a9ca3;font-weight:normal;">گرید</div>
<div class="t" style="right:342px;top:266.0px;height:18px;line-height:18px;font-size:12px;color:#e9c13a;font-weight:bold;">قیمت ثابت</div>
<div class="t" style="right:420px;top:266.4px;height:17.3px;line-height:17.3px;font-size:11.3px;color:#ffffff;font-weight:bold;">قیمت بازار</div>
<div style="left:939px;top:305px;width:299px;height:30px;background:#3d3d40;border-radius:8px"></div>
<div style="left:1247px;top:305px;width:299px;height:30px;background:#3d3d40;border-radius:8px"></div>
<div class="t" style="left:888px;width:400px;text-align:center;top:309.0px;height:18px;line-height:18px;font-size:12px;color:#e8e9ec;font-weight:bold;">۲x</div>
<div class="t" style="left:1196px;width:400px;text-align:center;top:309.0px;height:18px;line-height:18px;font-size:12px;color:#e8e9ec;font-weight:bold;">انتقال</div>
<div class="t" style="right:958px;top:351.5px;height:19px;line-height:19px;font-size:13px;color:#a9abb1;font-weight:normal;">حداکثر مقدار</div>
<div class="t" style="left:338px;top:352.0px;height:18px;line-height:18px;font-size:12px;color:#ffffff;font-weight:bold;"><i class="z"></i>.<i class="z"></i><i class="z"></i><i class="z"></i><i class="z"></i><i class="z"></i><i class="z"></i> BTC</div>
<div style="left:338px;top:382px;width:584px;height:40px;background:#33363c;border-radius:10px"></div>
<div class="t" style="right:970px;top:390.5px;height:21px;line-height:21px;font-size:15px;color:#ffffff;font-weight:normal;-webkit-text-stroke:0.4px #fff">قیمت</div>
<div class="t" style="left:347px;top:391.0px;height:20px;line-height:20px;font-size:14px;color:#ffffff;font-weight:bold;">۹۱,۲۸۳</div>
<div style="left:338px;top:434px;width:584px;height:40px;background:#33363c;border-radius:10px"></div>
<div class="t" style="right:970px;top:441.5px;height:21px;line-height:21px;font-size:15px;color:#ffffff;font-weight:normal;-webkit-text-stroke:0.4px #fff">مقدار</div>
<div class="t" style="left:347px;top:443.0px;height:20px;line-height:20px;font-size:14px;color:#8d8f95;font-weight:normal;">BTC</div>
<div style="left:340px;top:500px;width:582px;height:3px;background:#8b3444;border-radius:2px"></div>
<div style="left:487px;top:499px;width:4px;height:4px;background:#d04a5c;border-radius:50%"></div>
<div style="left:633px;top:499px;width:4px;height:4px;background:#d04a5c;border-radius:50%"></div>
<div style="left:779px;top:499px;width:4px;height:4px;background:#d04a5c;border-radius:50%"></div>
<div style="left:332px;top:493px;width:16px;height:16px;background:#f04659;border-radius:50%"></div>
<div style="left:338px;top:524px;width:584px;height:40px;background:#33363c;border-radius:10px"></div>
<div class="t" style="right:970px;top:532.5px;height:21px;line-height:21px;font-size:15px;color:#ffffff;font-weight:normal;-webkit-text-stroke:0.4px #fff">مجموع</div>
<div class="t" style="left:347px;top:534.0px;height:20px;line-height:20px;font-size:14px;color:#8d8f95;font-weight:normal;">USDT</div>
<div style="left:338px;top:577px;width:584px;height:36px;background:#f5465c;border-radius:9px"></div>
<div class="t" style="left:430.0px;width:400px;text-align:center;top:584.2px;height:19.5px;line-height:19.5px;font-size:13.5px;color:#ffffff;font-weight:normal;-webkit-text-stroke:0.45px #fff">فروش بیت‌کوین</div>
<div class="t" style="right:342px;top:351.5px;height:19px;line-height:19px;font-size:13px;color:#a9abb1;font-weight:normal;">حداکثر مقدار</div>
<div class="t" style="left:954px;top:352.0px;height:18px;line-height:18px;font-size:12px;color:#ffffff;font-weight:bold;"><i class="z"></i> USDT</div>
<div style="left:954px;top:382px;width:584px;height:40px;background:#33363c;border-radius:10px"></div>
<div class="t" style="right:354px;top:390.5px;height:21px;line-height:21px;font-size:15px;color:#ffffff;font-weight:normal;-webkit-text-stroke:0.4px #fff">قیمت</div>
<div class="t" style="left:963px;top:391.0px;height:20px;line-height:20px;font-size:14px;color:#ffffff;font-weight:bold;">۹۳,۳۲۱</div>
<div style="left:954px;top:434px;width:584px;height:40px;background:#33363c;border-radius:10px"></div>
<div class="t" style="right:354px;top:441.5px;height:21px;line-height:21px;font-size:15px;color:#ffffff;font-weight:normal;-webkit-text-stroke:0.4px #fff">مقدار</div>
<div class="t" style="left:963px;top:443.0px;height:20px;line-height:20px;font-size:14px;color:#8d8f95;font-weight:normal;">BTC</div>
<div style="left:956px;top:500px;width:582px;height:3px;background:#1f7f5c;border-radius:2px"></div>
<div style="left:1103px;top:499px;width:4px;height:4px;background:#20b07c;border-radius:50%"></div>
<div style="left:1249px;top:499px;width:4px;height:4px;background:#20b07c;border-radius:50%"></div>
<div style="left:1395px;top:499px;width:4px;height:4px;background:#20b07c;border-radius:50%"></div>
<div style="left:948px;top:493px;width:16px;height:16px;background:#14c884;border-radius:50%"></div>
<div style="left:954px;top:524px;width:584px;height:40px;background:#33363c;border-radius:10px"></div>
<div class="t" style="right:354px;top:532.5px;height:21px;line-height:21px;font-size:15px;color:#ffffff;font-weight:normal;-webkit-text-stroke:0.4px #fff">مجموع</div>
<div class="t" style="left:963px;top:534.0px;height:20px;line-height:20px;font-size:14px;color:#8d8f95;font-weight:normal;">USDT</div>
<div style="left:954px;top:577px;width:584px;height:36px;background:#12ca82;border-radius:9px"></div>
<div class="t" style="left:1046.0px;width:400px;text-align:center;top:584.2px;height:19.5px;line-height:19.5px;font-size:13.5px;color:#ffffff;font-weight:normal;-webkit-text-stroke:0.45px #fff">خرید بیت‌کوین</div>
<div style="left:1558px;top:210px;width:316px;height:418px;background:#1b1c21;"></div>
<div style="left:1562px;top:251px;width:312px;height:1px;background:#26272c;"></div>
<div class="t" style="right:49px;top:221.0px;height:18px;line-height:18px;font-size:12px;color:#f0b90b;font-weight:bold;">معاملات بازار</div>
<div class="t" style="right:208px;top:221.0px;height:18px;line-height:18px;font-size:12px;color:#c8cad0;font-weight:bold;">معاملات من</div>
<div class="t" style="right:14px;top:257.5px;height:17px;line-height:17px;font-size:11px;color:#8d8f95;font-weight:normal;direction:rtl">قیمت (USDT)</div>
<div class="t" style="right:133px;top:257.5px;height:17px;line-height:17px;font-size:11px;color:#8d8f95;font-weight:normal;direction:rtl">مقدار (BTC)</div>
<div class="t" style="right:244px;top:257.5px;height:17px;line-height:17px;font-size:11px;color:#8d8f95;font-weight:normal;">زمان</div>
<div style="left:1562px;top:282px;width:312px;height:1px;background:#3a3b40;"></div>
<div class="t" style="right:14px;top:293.0px;height:18px;line-height:18px;font-size:12px;color:#22c38b;font-weight:bold;">۹۲,۳۷۷</div>
<div class="t" style="right:140px;top:293.0px;height:18px;line-height:18px;font-size:12px;color:#c5c7cc;font-weight:bold;"><i class="z"></i>.<i class="z"></i><i class="z"></i><i class="z"></i>۳۲۴</div>
<div class="t" style="right:244px;top:293.0px;height:18px;line-height:18px;font-size:12px;color:#c5c7cc;font-weight:bold;">۱۴:۲۶:۳۱</div>
<div class="t" style="right:14px;top:317.1px;height:18px;line-height:18px;font-size:12px;color:#ee4b5e;font-weight:bold;">۹۲,۲۷۸</div>
<div class="t" style="right:140px;top:317.1px;height:18px;line-height:18px;font-size:12px;color:#c5c7cc;font-weight:bold;"><i class="z"></i>.<i class="z"></i><i class="z"></i><i class="z"></i>۵۴۱</div>
<div class="t" style="right:244px;top:317.1px;height:18px;line-height:18px;font-size:12px;color:#c5c7cc;font-weight:bold;">۱۴:۲۶:<i class="z"></i>۱</div>
<div class="t" style="right:14px;top:341.2px;height:18px;line-height:18px;font-size:12px;color:#22c38b;font-weight:bold;">۹۱,۹۸۹</div>
<div class="t" style="right:140px;top:341.2px;height:18px;line-height:18px;font-size:12px;color:#c5c7cc;font-weight:bold;"><i class="z"></i>.<i class="z"></i><i class="z"></i><i class="z"></i>۶۵۲</div>
<div class="t" style="right:244px;top:341.2px;height:18px;line-height:18px;font-size:12px;color:#c5c7cc;font-weight:bold;">۱۴:۲۵:۳۲</div>
<div class="t" style="right:14px;top:365.3px;height:18px;line-height:18px;font-size:12px;color:#22c38b;font-weight:bold;">۹۲,<i class="z"></i>۴۷</div>
<div class="t" style="right:140px;top:365.3px;height:18px;line-height:18px;font-size:12px;color:#c5c7cc;font-weight:bold;"><i class="z"></i>.<i class="z"></i><i class="z"></i><i class="z"></i>۶۵۱</div>
<div class="t" style="right:244px;top:365.3px;height:18px;line-height:18px;font-size:12px;color:#c5c7cc;font-weight:bold;">۱۴:۲۵:۱۲</div>
<div class="t" style="right:14px;top:389.4px;height:18px;line-height:18px;font-size:12px;color:#22c38b;font-weight:bold;">۹۱,۹۳۹</div>
<div class="t" style="right:140px;top:389.4px;height:18px;line-height:18px;font-size:12px;color:#c5c7cc;font-weight:bold;"><i class="z"></i>.<i class="z"></i><i class="z"></i><i class="z"></i>۴۳۵</div>
<div class="t" style="right:244px;top:389.4px;height:18px;line-height:18px;font-size:12px;color:#c5c7cc;font-weight:bold;">۱۴:۲۴:۴۴</div>
<div class="t" style="right:14px;top:413.5px;height:18px;line-height:18px;font-size:12px;color:#ee4b5e;font-weight:bold;">۹۲,۲۵۳</div>
<div class="t" style="right:140px;top:413.5px;height:18px;line-height:18px;font-size:12px;color:#c5c7cc;font-weight:bold;"><i class="z"></i>.<i class="z"></i><i class="z"></i><i class="z"></i>۴۳۳</div>
<div class="t" style="right:244px;top:413.5px;height:18px;line-height:18px;font-size:12px;color:#c5c7cc;font-weight:bold;">۱۴:۲۴:۱۳</div>
<div class="t" style="right:14px;top:437.6px;height:18px;line-height:18px;font-size:12px;color:#22c38b;font-weight:bold;">۹۲,۳<i class="z"></i>۴</div>
<div class="t" style="right:140px;top:437.6px;height:18px;line-height:18px;font-size:12px;color:#c5c7cc;font-weight:bold;"><i class="z"></i>.<i class="z"></i><i class="z"></i><i class="z"></i>۵۴۱</div>
<div class="t" style="right:244px;top:437.6px;height:18px;line-height:18px;font-size:12px;color:#c5c7cc;font-weight:bold;">۱۴:۲۴:<i class="z"></i>۷</div>
<div class="t" style="right:14px;top:461.7px;height:18px;line-height:18px;font-size:12px;color:#22c38b;font-weight:bold;">۹۲,۵۱۳</div>
<div class="t" style="right:140px;top:461.7px;height:18px;line-height:18px;font-size:12px;color:#c5c7cc;font-weight:bold;"><i class="z"></i>.<i class="z"></i><i class="z"></i><i class="z"></i>۴۳۲</div>
<div class="t" style="right:244px;top:461.7px;height:18px;line-height:18px;font-size:12px;color:#c5c7cc;font-weight:bold;">۱۴:۲۳:۵۱</div>
<div class="t" style="right:14px;top:485.8px;height:18px;line-height:18px;font-size:12px;color:#ee4b5e;font-weight:bold;">۹۲,۴۴۵</div>
<div class="t" style="right:140px;top:485.8px;height:18px;line-height:18px;font-size:12px;color:#c5c7cc;font-weight:bold;"><i class="z"></i>.<i class="z"></i><i class="z"></i><i class="z"></i>۳۲۴</div>
<div class="t" style="right:244px;top:485.8px;height:18px;line-height:18px;font-size:12px;color:#c5c7cc;font-weight:bold;">۱۴:۲۳:۲۲</div>
<div class="t" style="right:14px;top:509.9px;height:18px;line-height:18px;font-size:12px;color:#22c38b;font-weight:bold;">۹۱,۹۷۸</div>
<div class="t" style="right:140px;top:509.9px;height:18px;line-height:18px;font-size:12px;color:#c5c7cc;font-weight:bold;"><i class="z"></i>.<i class="z"></i><i class="z"></i><i class="z"></i>۸۶۹</div>
<div class="t" style="right:244px;top:509.9px;height:18px;line-height:18px;font-size:12px;color:#c5c7cc;font-weight:bold;">۱۴:۲۳:<i class="z"></i>۸</div>
<div class="t" style="right:14px;top:534.0px;height:18px;line-height:18px;font-size:12px;color:#ee4b5e;font-weight:bold;">۹۲,۵۱<i class="z"></i></div>
<div class="t" style="right:140px;top:534.0px;height:18px;line-height:18px;font-size:12px;color:#c5c7cc;font-weight:bold;"><i class="z"></i>.<i class="z"></i><i class="z"></i><i class="z"></i>۶۴۸</div>
<div class="t" style="right:244px;top:534.0px;height:18px;line-height:18px;font-size:12px;color:#c5c7cc;font-weight:bold;">۱۴:۲۲:۴۴</div>
<div class="t" style="right:14px;top:558.1px;height:18px;line-height:18px;font-size:12px;color:#ee4b5e;font-weight:bold;">۹۲,<i class="z"></i>۸۳</div>
<div class="t" style="right:140px;top:558.1px;height:18px;line-height:18px;font-size:12px;color:#c5c7cc;font-weight:bold;"><i class="z"></i>.<i class="z"></i><i class="z"></i><i class="z"></i>۶۵۱</div>
<div class="t" style="right:244px;top:558.1px;height:18px;line-height:18px;font-size:12px;color:#c5c7cc;font-weight:bold;">۱۴:۲۲:۲<i class="z"></i></div>
<div class="t" style="right:14px;top:582.2px;height:18px;line-height:18px;font-size:12px;color:#ee4b5e;font-weight:bold;">۹۲,۲۳۴</div>
<div class="t" style="right:140px;top:582.2px;height:18px;line-height:18px;font-size:12px;color:#c5c7cc;font-weight:bold;"><i class="z"></i>.<i class="z"></i><i class="z"></i><i class="z"></i>۴۳۳</div>
<div class="t" style="right:244px;top:582.2px;height:18px;line-height:18px;font-size:12px;color:#c5c7cc;font-weight:bold;">۱۴:۲۱:۵۷</div>
<div class="t" style="right:14px;top:606.3px;height:18px;line-height:18px;font-size:12px;color:#ee4b5e;font-weight:bold;">۹۲,<i class="z"></i>۹۹</div>
<div class="t" style="right:140px;top:606.3px;height:18px;line-height:18px;font-size:12px;color:#c5c7cc;font-weight:bold;"><i class="z"></i>.<i class="z"></i><i class="z"></i><i class="z"></i>۶۵۱</div>
<div class="t" style="right:244px;top:606.3px;height:18px;line-height:18px;font-size:12px;color:#c5c7cc;font-weight:bold;">۱۴:۲۱:۳۴</div>
<div style="left:3px;top:632px;width:1871px;height:211px;background:#1b1c21;border-radius:0 0 4px 4px"></div>
<div style="left:3px;top:670px;width:1872px;height:1px;background:#2a2b30;"></div>
<div style="left:3px;top:740px;width:1872px;height:2px;background:#2a2b30;"></div>
<div class="t" style="right:22px;top:641.0px;height:18px;line-height:18px;font-size:12px;color:#b7b9bf;font-weight:normal;">سفارش‌های باز</div>
<div class="t" style="right:124px;top:641.5px;height:17px;line-height:17px;font-size:11px;color:#ffffff;font-weight:bold;direction:rtl">موقعیت‌های باز (۱)</div>
<div style="left:1646px;top:668px;width:126px;height:3px;background:#e3b53a;"></div>
<div class="t" style="right:249px;top:641.0px;height:18px;line-height:18px;font-size:12px;color:#9a9ca3;font-weight:normal;">سفارش‌های ربات</div>
<div class="t" style="right:371px;top:641.0px;height:18px;line-height:18px;font-size:12px;color:#9a9ca3;font-weight:normal;">تاریخچه</div>
<div class="t" style="right:22px;top:694.5px;height:19px;line-height:19px;font-size:13px;color:#eceef1;font-weight:normal;-webkit-text-stroke:0.35px #eceef1">زمان بسته شدن</div>
<div class="t" style="right:156px;top:694.5px;height:19px;line-height:19px;font-size:13px;color:#eceef1;font-weight:normal;-webkit-text-stroke:0.35px #eceef1">بازار</div>
<div class="t" style="right:281px;top:694.5px;height:19px;line-height:19px;font-size:13px;color:#eceef1;font-weight:normal;-webkit-text-stroke:0.35px #eceef1">حجم</div>
<div style="left:1541px;top:694px;width:22px;height:22px;border:2px solid #fff;border-radius:50%;box-sizing:border-box;color:#fff;font:bold 15px/18px 'Liberation Sans',sans-serif;text-align:center">?</div>
<div class="t" style="right:395px;top:694.5px;height:19px;line-height:19px;font-size:13px;color:#eceef1;font-weight:normal;-webkit-text-stroke:0.35px #eceef1">میانگین قیمت ورود</div>
<div style="left:1350px;top:694px;width:22px;height:22px;border:2px solid #fff;border-radius:50%;box-sizing:border-box;color:#fff;font:bold 15px/18px 'Liberation Sans',sans-serif;text-align:center">?</div>
<div class="t" style="right:588px;top:694.5px;height:19px;line-height:19px;font-size:13px;color:#eceef1;font-weight:normal;-webkit-text-stroke:0.35px #eceef1">قیمت فعلی</div>
<div style="left:1199px;top:694px;width:22px;height:22px;border:2px solid #fff;border-radius:50%;box-sizing:border-box;color:#fff;font:bold 15px/18px 'Liberation Sans',sans-serif;text-align:center">?</div>
<div class="t" style="right:734px;top:694.5px;height:19px;line-height:19px;font-size:13px;color:#eceef1;font-weight:normal;-webkit-text-stroke:0.35px #eceef1">قیمت لیکویید شدن</div>
<div style="left:1010px;top:694px;width:22px;height:22px;border:2px solid #fff;border-radius:50%;box-sizing:border-box;color:#fff;font:bold 15px/18px 'Liberation Sans',sans-serif;text-align:center">?</div>
<div class="t" style="right:928px;top:694.5px;height:19px;line-height:19px;font-size:13px;color:#eceef1;font-weight:normal;-webkit-text-stroke:0.35px #eceef1">نسبت تعهد</div>
<div style="left:858px;top:694px;width:22px;height:22px;border:2px solid #fff;border-radius:50%;box-sizing:border-box;color:#fff;font:bold 15px/18px 'Liberation Sans',sans-serif;text-align:center">?</div>
<div class="t" style="right:1074px;top:694.5px;height:19px;line-height:19px;font-size:13px;color:#eceef1;font-weight:normal;-webkit-text-stroke:0.35px #eceef1">دارایی درگیر موقعیت</div>
<div style="left:665px;top:694px;width:22px;height:22px;border:2px solid #fff;border-radius:50%;box-sizing:border-box;color:#fff;font:bold 15px/18px 'Liberation Sans',sans-serif;text-align:center">?</div>
<div class="t" style="right:1274px;top:694.5px;height:19px;line-height:19px;font-size:13px;color:#eceef1;font-weight:normal;-webkit-text-stroke:0.35px #eceef1">سود / زیان</div>
<div style="left:516px;top:694px;width:22px;height:22px;border:2px solid #fff;border-radius:50%;box-sizing:border-box;color:#fff;font:bold 15px/18px 'Liberation Sans',sans-serif;text-align:center">?</div>
<div class="t" style="right:22px;top:782.0px;height:18px;line-height:18px;font-size:12px;color:#e8e9ec;font-weight:normal;direction:rtl;-webkit-text-stroke:0.35px #e8e9ec">۲۵ روز مانده</div>
<div class="t" style="right:156px;top:771.5px;height:19px;line-height:19px;font-size:13px;color:#e8e9ec;font-weight:normal;text-decoration:underline">ADAIRT</div>
<div class="t" style="right:156px;top:792.5px;height:17px;line-height:17px;font-size:11px;color:#e0485a;font-weight:normal;direction:rtl">۲x فروش تعهدی</div>
<div class="t" style="right:281px;top:782.0px;height:18px;line-height:18px;font-size:12px;color:#ddd;font-weight:normal;"><span style="color:#22c38b;-webkit-text-stroke:0.3px #22c38b">+۱۱۲,<i class="z"></i>۲<i class="z"></i></span> <span style="color:#9a9ca3">IRT</span></div>
<div class="t" style="right:395px;top:782.0px;height:18px;line-height:18px;font-size:12px;color:#e8e9ec;font-weight:bold;">۵۳,۴۶۲ <span style="color:#9a9ca3;font-weight:normal">IRT</span></div>
<div class="t" style="right:588px;top:782.0px;height:18px;line-height:18px;font-size:12px;color:#e8e9ec;font-weight:bold;">۵۸,۸<i class="z"></i>۸ <span style="color:#9a9ca3;font-weight:normal">IRT</span></div>
<div class="t" style="right:734px;top:782.0px;height:18px;line-height:18px;font-size:12px;color:#e8e9ec;font-weight:bold;">۷۲,۶۲۱ <span style="color:#9a9ca3;font-weight:normal">IRT</span></div>
<div class="t" style="right:972px;top:782.0px;height:18px;line-height:18px;font-size:12px;color:#e8e9ec;font-weight:bold;">۱.۳۵</div>
<svg style="position:absolute;left:913px;top:780px" width="22" height="22" viewBox="0 0 22 22"><circle cx="9" cy="9" r="6.5" fill="none" stroke="#fff" stroke-width="2"/><path d="M14 14l5 5" stroke="#fff" stroke-width="2.5" stroke-linecap="round"/><path d="M9 6v6M6 9h6" stroke="#fff" stroke-width="1.6"/></svg>
<div class="t" style="right:1119px;top:782.0px;height:18px;line-height:18px;font-size:12px;color:#e8e9ec;font-weight:bold;">۵<i class="z"></i>,۷۸۸ <span style="color:#9a9ca3;font-weight:normal">IRT</span></div>
<svg style="position:absolute;left:769px;top:781px" width="22" height="22" viewBox="0 0 24 24"><path d="M3 17.25V21h3.75L17.81 9.94l-3.75-3.75L3 17.25zM20.71 7.04a1 1 0 0 0 0-1.41l-2.34-2.34a1 1 0 0 0-1.41 0l-1.83 1.83 3.75 3.75 1.83-1.83z" fill="#fff"/></svg>
<div class="t" style="right:1275px;top:782.0px;height:18px;line-height:18px;font-size:12px;color:#ddd;font-weight:bold;"><span style="color:#e0485a">-۱<i class="z"></i>,۶۴۵</span> <span style="color:#e8e9ec;font-weight:normal">IRT</span></div>
<div style="left:399px;top:780px;width:65px;height:32px;background:#16c784;border-radius:8px"></div>
<div class="t" style="left:231px;width:400px;text-align:center;top:787.0px;height:18px;line-height:18px;font-size:12px;color:#ffffff;font-weight:bold;">بستن آنی</div>
<div style="left:273px;top:780px;width:118px;height:32px;background:#2a2b30;border-radius:8px"></div>
<div class="t" style="right:1502px;top:787.5px;height:17px;line-height:17px;font-size:11px;color:#7d7f85;font-weight:normal;">قیمت</div>
<div class="t" style="left:280px;top:787.5px;height:17px;line-height:17px;font-size:11px;color:#6d6f75;font-weight:normal;">ADA</div>
<div style="left:147px;top:780px;width:118px;height:32px;background:#2a2b30;border-radius:8px"></div>
<div class="t" style="right:1628px;top:787.5px;height:17px;line-height:17px;font-size:11px;color:#e8e9ec;font-weight:bold;">مقدار</div>
<div class="t" style="left:151px;top:787.5px;height:17px;line-height:17px;font-size:11px;color:#8d8f95;font-weight:normal;">ADA</div>
<div style="left:75px;top:780px;width:63px;height:32px;background:#3a3b3f;border-radius:8px"></div>
<div class="t" style="left:-94px;width:400px;text-align:center;top:787.0px;height:18px;line-height:18px;font-size:12px;color:#e8e9ec;font-weight:bold;">بستن</div>
<div class="t" style="right:1525px;top:759.5px;height:17px;line-height:17px;font-size:11px;color:#e8e9ec;font-weight:normal;">قیمت بازار</div>
<div style="left:359px;top:762px;width:30px;height:11px;background:#7a6420;border-radius:6px"></div>
<div style="left:360px;top:760px;width:15px;height:15px;background:#f7b924;border-radius:50%"></div>
<div class="t" style="right:1616px;top:759.5px;height:17px;line-height:17px;font-size:11px;color:#e8e9ec;font-weight:normal;direction:ltr">۱.۹ ADA:حداکثر</div>
<div style="left:831px;top:669px;width:140px;height:175px;border:3px solid #d33a40;box-sizing:border-box"></div>
<div style="left:0px;top:847px;width:1880px;height:2px;background:#e6e6e6;"></div>
<div style="left:0px;top:849px;width:1880px;height:16px;background:#222429;"></div>
<div class="t" style="left:48px;top:855.5px;height:17px;line-height:17px;font-size:11px;color:#3ea86a;font-weight:normal;">اتصال پایدار</div>
<svg style="position:absolute;left:18px;top:858px" width="22" height="10" viewBox="0 0 22 10" fill="none" stroke="#52b06f" stroke-width="2"><path d="M2 7 Q11 -1 20 7"/><path d="M6 10 Q11 5 16 10"/></svg>
<div class="t" style="left:1793px;top:855.0px;height:18px;line-height:18px;font-size:12px;color:#d0d2d6;font-weight:normal;">API</div>
<div style="left:1767px;top:857px;width:12px;height:12px;border:1.5px solid #c8cad0;border-radius:2px;box-sizing:border-box"></div>
<div style="left:1813px;top:810px;width:60px;height:60px;border-radius:50%;background:#1a5b8e"></div>
<svg style="position:absolute;left:1826px;top:825px" width="36" height="32" viewBox="0 0 36 32"><path d="M2 4a2 2 0 0 1 2-2h15a2 2 0 0 1 2 2v10a2 2 0 0 1-2 2H8l-6 5z" fill="#fff"/><path d="M11 10a2 2 0 0 1 2-2h17a2 2 0 0 1 2 2v11a2 2 0 0 1-2 2v5l-6-5H13a2 2 0 0 1-2-2z" fill="#fff" stroke="#1a5b8e" stroke-width="1.5"/><circle cx="17" cy="15.5" r="1" fill="#555"/><circle cx="21" cy="15.5" r="1" fill="#555"/><circle cx="25" cy="15.5" r="1" fill="#555"/></svg>
</body></html>
